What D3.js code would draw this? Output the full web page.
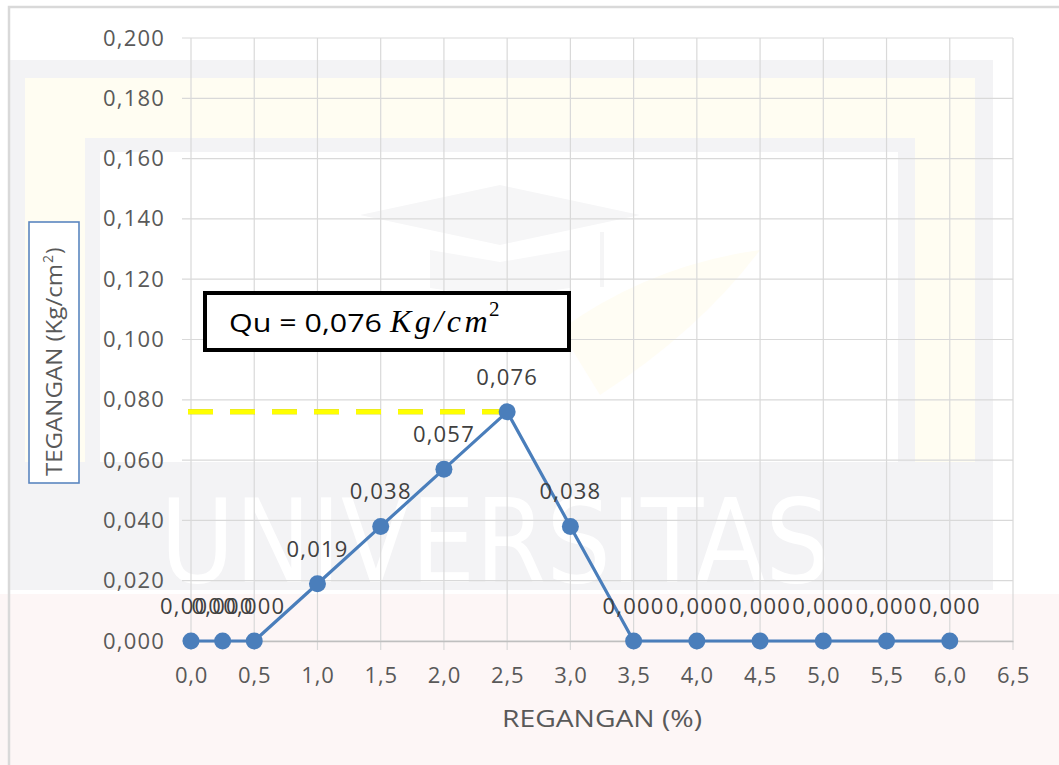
<!DOCTYPE html>
<html>
<head>
<meta charset="utf-8">
<script src="https://cdn.jsdelivr.net/npm/d3@7"></script>
<style>
  html, body { margin: 0; padding: 0; background: #fff; }
  svg { display: block; font-family: "Open Sans", "Liberation Sans", sans-serif; }
</style>
</head>
<body>
<svg id="chart" width="1059" height="765"></svg>
<script>
// Unconfined compression test: stress vs strain
const strain = [0, 0.25, 0.5, 1.0, 1.5, 2.0, 2.5, 3.0, 3.5, 4.0, 4.5, 5.0, 5.5, 6.0];
const stress = [0, 0, 0, 0.019, 0.038, 0.057, 0.076, 0.038, 0, 0, 0, 0, 0, 0];
const quValue = 0.076;
const xTicks = [0, 0.5, 1.0, 1.5, 2.0, 2.5, 3.0, 3.5, 4.0, 4.5, 5.0, 5.5, 6.0, 6.5];
const yTicks = [0, 0.02, 0.04, 0.06, 0.08, 0.10, 0.12, 0.14, 0.16, 0.18, 0.20];
const xTitle = "REGANGAN (%)";
const yTitle = "TEGANGAN (Kg/cm";

const svg = d3.select("#chart");
const W = 1059, H = 765;
const plot = { left: 191, right: 1013, top: 38, bottom: 641 };
const SANS = "'Open Sans', 'Liberation Sans', sans-serif";
const SERIF = "'Liberation Serif', 'DejaVu Serif', serif";

const x = d3.scaleLinear().domain([0, 6.5]).range([plot.left, plot.right]);
const y = d3.scaleLinear().domain([0, 0.2]).range([plot.bottom, plot.top]);

const comma = f => v => d3.format(f)(v).replace(".", ",");
const fmtX = comma(".1f");
const fmtY = comma(".3f");

// ---- faint background watermark ----
const wm = svg.append("g").attr("class", "watermark");
wm.append("path")
  .attr("d", "M10,60 H993 V462 H975 V78 H25 V462 H10 Z")
  .attr("fill", "#f3f3f5");
wm.append("path")
  .attr("d", "M25,78 H975 V462 H915 V138 H85 V462 H25 Z")
  .attr("fill", "#fffdf2");
wm.append("path")
  .attr("d", "M85,138 H915 V462 H898 V152 H100 V462 H85 Z")
  .attr("fill", "#f3f3f5");
// mortarboard
wm.append("path")
  .attr("d", "M360,215 L500,185 L640,215 L500,245 Z")
  .attr("fill", "#f6f6f7");
wm.append("path")
  .attr("d", "M430,250 L500,262 L570,250 L570,288 L500,298 L430,288 Z")
  .attr("fill", "#f7f7f8");
wm.append("rect").attr("x", 600).attr("y", 232).attr("width", 4).attr("height", 55).attr("fill", "#f5f5f6");
// quill
wm.append("path")
  .attr("d", "M560,330 Q650,265 760,250 Q700,330 600,395 Z")
  .attr("fill", "#fffdf4");
// lower grey band with white lettering
wm.append("rect").attr("x", 10).attr("y", 462).attr("width", 983).attr("height", 128).attr("fill", "#f3f3f5");
wm.append("text")
  .attr("x", 160).attr("y", 582)
  .attr("textLength", 670).attr("lengthAdjust", "spacingAndGlyphs")
  .attr("font-size", 116)
  .style("font-family", "'DejaVu Sans', sans-serif")
  .attr("fill", "#ffffff")
  .text("UNIVERSITAS");
// pale red band at the bottom
wm.append("rect").attr("x", 0).attr("y", 594).attr("width", W).attr("height", H - 594).attr("fill", "#fdf6f6");

// ---- chart frame ----
svg.append("path")
  .attr("d", `M9,${H} V7 H${W}`)
  .attr("fill", "none").attr("stroke", "#d9d9d9").attr("stroke-width", 2.5);

// ---- gridlines ----
const grid = svg.append("g").attr("class", "grid");
grid.selectAll("line.v").data(xTicks).join("line")
  .attr("class", "v")
  .attr("x1", d => x(d)).attr("x2", d => x(d))
  .attr("y1", plot.top).attr("y2", plot.bottom + 9)
  .attr("stroke", "#d9d9d9").attr("stroke-width", 1.2);
grid.selectAll("line.h").data(yTicks).join("line")
  .attr("class", "h")
  .attr("x1", plot.left - 9).attr("x2", plot.right)
  .attr("y1", d => y(d)).attr("y2", d => y(d))
  .attr("stroke", "#d9d9d9").attr("stroke-width", 1.2);

// ---- axes ----
const labelFont = 22;
const xAxis = svg.append("g")
  .attr("transform", `translate(0,${plot.bottom})`)
  .call(d3.axisBottom(x).tickValues(xTicks).tickFormat(fmtX).tickSize(0).tickPadding(26));
xAxis.select(".domain").attr("stroke", "#bfbfbf").attr("stroke-width", 1.3);
xAxis.selectAll("text")
  .attr("font-size", labelFont).attr("fill", "#595959")
  .attr("font-family", SANS)
  .attr("letter-spacing", 0.8);

const yAxis = svg.append("g")
  .attr("transform", `translate(${plot.left},0)`)
  .call(d3.axisLeft(y).tickValues(yTicks).tickFormat(fmtY).tickSize(0).tickPadding(26));
yAxis.select(".domain").remove();
yAxis.selectAll("text")
  .attr("font-size", labelFont).attr("fill", "#595959")
  .attr("font-family", SANS)
  .attr("letter-spacing", 1.2);

// ---- axis titles ----
svg.append("text")
  .attr("x", 502).attr("y", 727)
  .attr("textLength", 200).attr("lengthAdjust", "spacingAndGlyphs")
  .attr("font-size", 23).attr("fill", "#595959")
  .text(xTitle);

svg.append("rect")
  .attr("x", 29).attr("y", 222).attr("width", 50).attr("height", 261)
  .attr("fill", "#ffffff").attr("stroke", "#5b86c0").attr("stroke-width", 1.6);
const yt = svg.append("g").attr("transform", "translate(62,476) rotate(-90)");
yt.append("text")
  .attr("x", 0).attr("y", 0)
  .attr("textLength", 212).attr("lengthAdjust", "spacingAndGlyphs")
  .attr("font-size", 22).attr("fill", "#595959")
  .text(yTitle);
yt.append("text")
  .attr("x", 213).attr("y", -9)
  .attr("font-size", 14).attr("fill", "#595959")
  .text("2");
yt.append("text")
  .attr("x", 222).attr("y", 0)
  .attr("font-size", 22).attr("fill", "#595959")
  .text(")");

// ---- Qu reference line ----
svg.append("line")
  .attr("x1", x(0) - 3).attr("x2", x(2.5))
  .attr("y1", y(quValue)).attr("y2", y(quValue))
  .attr("stroke", "#ffff00").attr("stroke-width", 5)
  .attr("stroke-dasharray", "25,17")
  .style("filter", "drop-shadow(0 0 0.7px rgba(110,110,0,0.7))");

// ---- series ----
const pts = strain.map((s, i) => ({ s, v: stress[i] }));
const line = d3.line().x(d => x(d.s)).y(d => y(d.v));
svg.append("path")
  .datum(pts)
  .attr("d", line)
  .attr("fill", "none").attr("stroke", "#4a7ebb").attr("stroke-width", 3.2)
  .attr("stroke-linejoin", "round");

svg.selectAll("circle.pt").data(pts).join("circle")
  .attr("class", "pt")
  .attr("cx", d => x(d.s)).attr("cy", d => y(d.v))
  .attr("r", 8.5)
  .attr("fill", "#4a7ebb");

svg.selectAll("text.lbl").data(pts).join("text")
  .attr("class", "lbl")
  .attr("x", d => x(d.s)).attr("y", d => y(d.v) - 27)
  .attr("text-anchor", "middle")
  .attr("font-size", labelFont).attr("fill", "#404040")
  .attr("letter-spacing", 1.2)
  .text(d => fmtY(d.v));

// ---- Qu annotation box ----
svg.append("rect")
  .attr("x", 205).attr("y", 293).attr("width", 364).attr("height", 57)
  .attr("fill", "#ffffff").attr("stroke", "#000000").attr("stroke-width", 4);
const qu = svg.append("g");
qu.append("text")
  .attr("x", 229).attr("y", 332)
  .attr("textLength", 153).attr("lengthAdjust", "spacingAndGlyphs")
  .attr("font-size", 26).attr("fill", "#000000")
  .text("Qu = " + fmtY(quValue));
qu.append("text")
  .attr("x", 390).attr("y", 332)
  .style("font-family", SERIF)
  .style("font-style", "italic")
  .attr("font-size", 32).attr("letter-spacing", 3.5).attr("fill", "#000000")
  .text("Kg/cm");
qu.append("text")
  .attr("x", 489).attr("y", 316)
  .style("font-family", SERIF)
  .attr("font-size", 21).attr("fill", "#000000")
  .text("2");
</script>
</body>
</html>
